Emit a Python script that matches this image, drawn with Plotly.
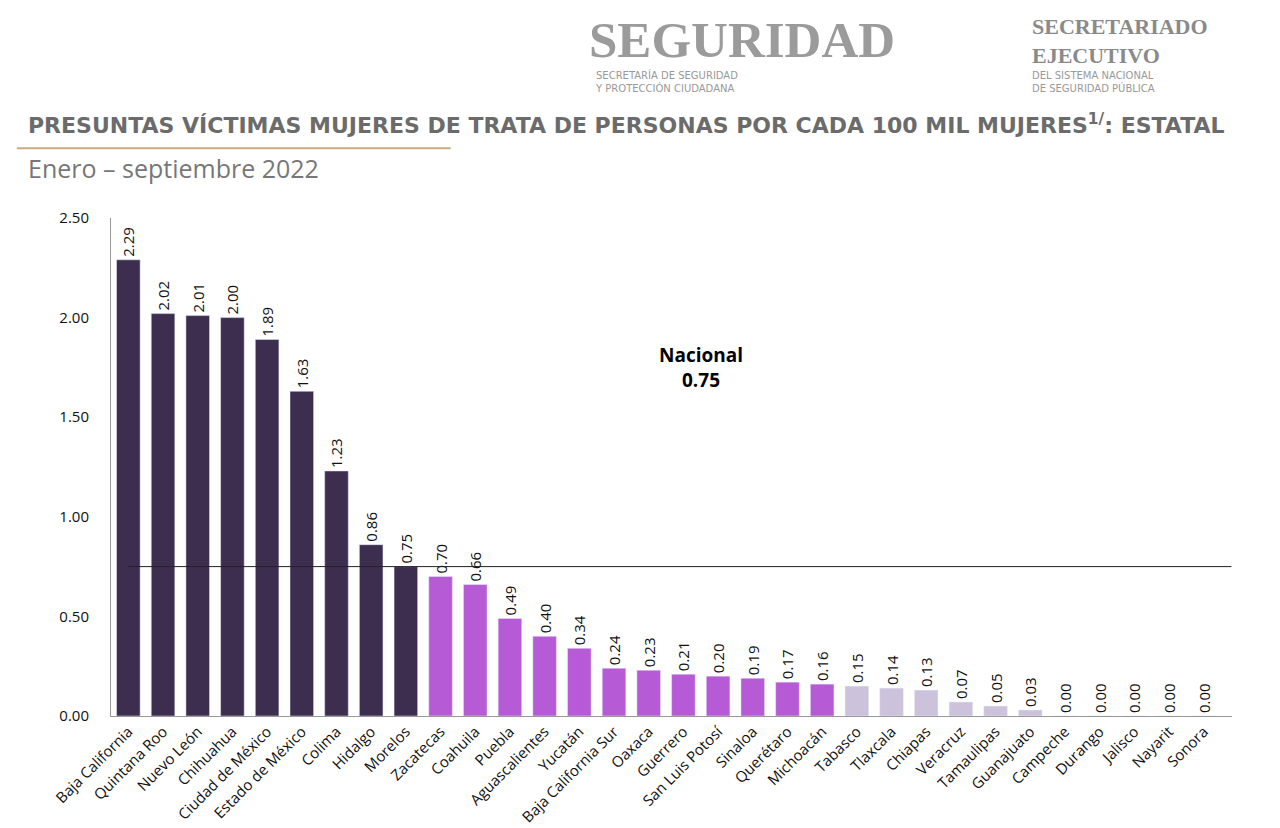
import plotly.graph_objects as go

estados = ["Baja California", "Quintana Roo", "Nuevo León", "Chihuahua", "Ciudad de México",
           "Estado de México", "Colima", "Hidalgo", "Morelos", "Zacatecas", "Coahuila", "Puebla",
           "Aguascalientes", "Yucatán", "Baja California Sur", "Oaxaca", "Guerrero",
           "San Luis Potosí", "Sinaloa", "Querétaro", "Michoacán", "Tabasco", "Tlaxcala",
           "Chiapas", "Veracruz", "Tamaulipas", "Guanajuato", "Campeche", "Durango", "Jalisco",
           "Nayarit", "Sonora"]
tasas = [2.29, 2.02, 2.01, 2.00, 1.89, 1.63, 1.23, 0.86, 0.75, 0.70, 0.66, 0.49, 0.40, 0.34,
         0.24, 0.23, 0.21, 0.20, 0.19, 0.17, 0.16, 0.15, 0.14, 0.13, 0.07, 0.05, 0.03,
         0.00, 0.00, 0.00, 0.00, 0.00]
nacional = 0.75

colores = []
for t in tasas:
    if t >= nacional:
        colores.append("#3d2e4f")
    elif t > 0.15:
        colores.append("#b65bd5")
    else:
        colores.append("#cdc2dc")

fig = go.Figure(go.Bar(
    x=estados, y=tasas, marker_color=colores, width=0.68,
    text=[f"{t:.2f}" for t in tasas], textposition="outside", textangle=-90,
    constraintext="none",
    textfont=dict(family="Open Sans", size=15, color="#111"), cliponaxis=False,
))

fig.add_shape(type="line", xref="x", yref="y", x0=0, x1=31.8, y0=nacional, y1=nacional,
              line=dict(color="#222", width=1))
fig.add_shape(type="line", xref="paper", yref="paper", x0=-0.084, x1=0.303, y0=1.14, y1=1.14,
              line=dict(color="#c9ab80", width=2))
fig.add_annotation(x=16.5, y=1.75, xref="x", yref="y", showarrow=False,
                   text="<b>Nacional<br>0.75</b>", font=dict(family="Open Sans", size=19, color="#000"))

titulo = "PRESUNTAS VÍCTIMAS MUJERES DE TRATA DE PERSONAS POR CADA 100 MIL MUJERES<sup>1/</sup>: ESTATAL"
encabezado = [
    # (x, yshift, texto, fuente, tamaño, color)
    (0.425, 148, "<b>SEGURIDAD</b>", "Liberation Serif", 51, "#9b9b9b"),
    (0.82, 148, "<b>SECRETARIADO<br>EJECUTIVO</b>", "Liberation Serif", 22, "#8a8a8a"),
    (0.43, 122, "SECRETARÍA DE SEGURIDAD<br>Y PROTECCIÓN CIUDADANA", "DejaVu Sans", 10, "#999"),
    (0.82, 122, "DEL SISTEMA NACIONAL<br>DE SEGURIDAD PÚBLICA", "DejaVu Sans", 10, "#999"),
    (-0.076, 78, "<b>" + titulo + "</b>", "DejaVu Sans", 22, "#6b6b6b"),
    (-0.076, 31, "Enero – septiembre 2022", "Open Sans", 25, "#777"),
]
for x, ys, txt, fam, size, col in encabezado:
    fig.add_annotation(xref="paper", yref="paper", x=x, y=1.0, yshift=ys, showarrow=False,
                       xanchor="left", yanchor="bottom", align="left", text=txt,
                       font=dict(family=fam, size=size, color=col))

fig.update_layout(
    width=1280, height=828,
    margin=dict(l=103, r=56, t=210, b=120),
    paper_bgcolor="white", plot_bgcolor="white",
    showlegend=False,
)
fig.update_xaxes(tickangle=-45, tickfont=dict(family="Open Sans", size=15, color="#111"),
                 showline=True, linecolor="#999", linewidth=1, ticks="", automargin=False)
fig.update_yaxes(range=[0, 2.5], dtick=0.5, tickformat=".2f", showgrid=False,
                 showline=True, linecolor="#999", linewidth=1,
                 tickfont=dict(family="Open Sans", size=15, color="#111"), ticks="",
                 ticklabelstandoff=18, automargin=False)

fig.write_html("out.html")
